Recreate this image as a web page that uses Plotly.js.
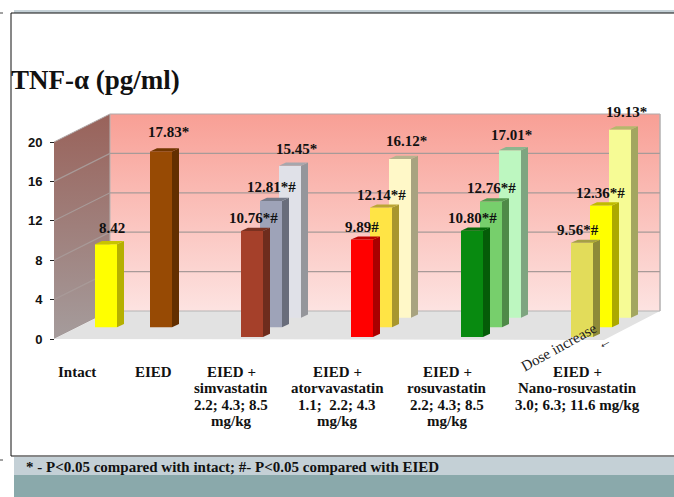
<!DOCTYPE html>
<html><head><meta charset="utf-8">
<script src="https://cdn.plot.ly/plotly-3.0.1.min.js"></script>
<style>html,body{margin:0;padding:0;background:#fff;overflow:hidden}#c{width:674px;height:497px}</style>
</head><body><div id="c"></div>
<script>
// ---- data ----
const categories = ["Intact","EIED","EIED +<br>simvastatin<br>2.2; 4.3; 8.5<br>mg/kg","EIED +<br>atorvavastatin<br>1.1;  2.2; 4.3<br>mg/kg","EIED +<br>rosuvastatin<br>2.2; 4.3; 8.5<br>mg/kg","EIED +<br>Nano-rosuvastatin<br>3.0; 6.3; 11.6 mg/kg"];
const lowDose  = [null,null,10.76,9.89,10.80,9.56];
const midDose  = [8.42,17.83,12.81,12.14,12.76,12.36];
const highDose = [null,null,15.45,16.12,17.01,19.13];
const lowLabels  = [null,null,"10.76*#","9.89#","10.80*#","9.56*#"];
const midLabels  = ["8.42","17.83*","12.81*#","12.14*#","12.76*#","12.36*#"];
const highLabels = [null,null,"15.45*","16.12*","17.01*","19.13*"];
const yTicks = [0,4,8,12,16,20];

// ---- styling ----
const lowColors  = [null,null,"#a5402a","#ff0000","#088a10","#e2dc5a"];
const midColors  = ["#ffff00","#974a04","#9ea3b8","#ffe445","#77cf6c","#ffff00"];
const highColors = [null,null,"#e0e1e8","#fff8c8","#bdf7c0","#f6fb95"];
const lowSides   = [null,null,"#6e2c1d","#aa0000","#055c08","#8e8a38"];
const midSides   = ["#b5b000","#632f00","#696d7b","#a8962e","#4f8a48","#aca800"];
const highSides  = [null,null,"#95969b","#a8a380","#7ea580","#a3a660"];
const lowTops    = [null,null,"#7a3120","#bb0000","#066a0a","#a5a045"];
const midTops    = ["#c8c400","#713600","#777b8a","#bba635","#589a50","#bfbb00"];
const highTops   = [null,null,"#a6a7ad","#b8b38e","#8cb58e","#b5b86c"];
const slots = [0,1,3,5,7,9];
const lowShift  = [[0,0],[0,0],[1,13],[0,13],[0,13],[-4,13]];
const midShift  = [[6,16],[7,20],[0,14],[0,13],[0,13],[-1,12]];
const highShift = [[0,0],[0,0],[6,17],[6,18],[1,15],[6,17]];

// ---- geometry: 55 px per slot, 9.85 px per pg/ml ----
const W=674,H=497, PX=55, PY=9.85, X0=106, Y0=339;
const xr=[-X0/PX,(W-X0)/PX], yr=[(Y0-H)/PY,Y0/PY];
const dxP=v=>v/PX, dyP=v=>v/PY;
const barW=dxP(22), sideX=dxP(7), sideY=dyP(3.2);
const wallDx=dxP(56), wallDy=dyP(28);
const leftX=dxP(54-X0), backX=leftX+wallDx, rightX=dxP(660-X0), frontRight=dxP(604-X0);
const rows=[
 {vals:highDose,cols:highColors,sides:highSides,tops:highTops,labs:highLabels,shift:highShift,off:dxP(19),base:2.15},
 {vals:midDose,cols:midColors,sides:midSides,tops:midTops,labs:midLabels,shift:midShift,off:0,base:1.2},
 {vals:lowDose,cols:lowColors,sides:lowSides,tops:lowTops,labs:lowLabels,shift:lowShift,off:-dxP(19),base:0.2}
];
const traces=[];
const poly=(xs,ys,fc,extra)=>Object.assign({type:'scatter',mode:'lines',x:xs,y:ys,fill:'toself',fillcolor:fc,line:{width:0},hoverinfo:'skip',showlegend:false},extra||{});

// walls and floor (base axes)
traces.push(poly([leftX,backX,backX,leftX,leftX],[20,20+wallDy,wallDy,0,20],'#9a645c',{
  fillgradient:{type:'vertical',colorscale:[[0,'#a59c9c'],[1,'#99625a']]}}));
traces.push(poly([backX,rightX,rightX,backX,backX],[wallDy,wallDy,20+wallDy,20+wallDy,wallDy],'#f8a096',{
  fillgradient:{type:'vertical',colorscale:[[0,'#fde3e1'],[1,'#f89f95']]}}));
traces.push(poly([leftX,backX,rightX,frontRight,leftX],[0,wallDy,wallDy,-0.1,0],'#e2e2e2'));
// wall outline
traces.push({type:'scatter',mode:'lines',x:[leftX,backX,rightX,rightX],y:[20,20+wallDy,20+wallDy,wallDy],line:{color:'#b0a8a8',width:1},hoverinfo:'skip',showlegend:false});
traces.push({type:'scatter',mode:'lines',x:[backX,backX,rightX,rightX],y:[20+wallDy,wallDy,wallDy,20+wallDy],line:{color:'#b4b4b4',width:1},hoverinfo:'skip',showlegend:false});
// grid on both walls
yTicks.slice(1,-1).forEach(v=>{
  traces.push({type:'scatter',mode:'lines',x:[leftX,backX,rightX],y:[v,v+wallDy,v+wallDy],line:{color:'#a89a98',width:1.2},hoverinfo:'skip',showlegend:false});
});

// bars (overlay axes, back row first)
const bx=[],by=[],bb=[],bc=[],faces=[],anns=[];
rows.forEach(r=>{
  r.vals.forEach((v,i)=>{
    if(v===null)return;
    const c=slots[i]+r.off, top=r.base+v;
    bx.push(c);by.push(v);bb.push(r.base);bc.push(r.cols[i]);
    const R=c+barW/2,L=c-barW/2;
    faces.push(poly([R,R+sideX,R+sideX,R,R],[r.base,r.base+sideY,top+sideY,top,r.base],r.sides[i],{xaxis:'x2',yaxis:'y2'}));
    faces.push(poly([L,L+sideX,R+sideX,R,L],[top,top+sideY,top+sideY,top,top],r.tops[i],{xaxis:'x2',yaxis:'y2'}));
    anns.push({xref:'x',yref:'y',x:c,y:top,xshift:r.shift[i][0],yshift:r.shift[i][1],text:'<b>'+r.labs[i]+'</b>',showarrow:false,xanchor:'center',yanchor:'middle',
      font:{family:'Liberation Serif',size:15,color:'#111'}});
  });
});
traces.push({type:'bar',x:bx,y:by,base:bb,width:barW,marker:{color:bc,line:{width:0}},xaxis:'x2',yaxis:'y2',hoverinfo:'skip',showlegend:false});
faces.forEach(f=>traces.push(f));

// category labels, one annotation per line for the tight leading
const catX=[77,153,231,337,447,577], catY=372, catLead=16.4;
categories.forEach((t,i)=>t.split('<br>').forEach((line,k)=>anns.push({xref:'paper',yref:'paper',x:catX[i]/W,y:1-(catY+k*catLead)/H,yanchor:'middle',xanchor:'center',
  text:'<b>'+line+'</b>',showarrow:false,font:{family:'Liberation Serif',size:15,color:'#111'}})));
// notes
anns.push({xref:'paper',yref:'paper',x:559/W,y:1-347/H,xanchor:'center',yanchor:'middle',text:'Dose increase',textangle:-29,showarrow:false,font:{family:'Liberation Serif',size:15,color:'#222'}});
anns.push({xref:'paper',yref:'paper',x:604/W,y:1-342/H,xanchor:'center',yanchor:'middle',text:'←',textangle:-29,showarrow:false,font:{family:'Liberation Serif',size:14,color:'#222'}});
anns.push({xref:'paper',yref:'paper',x:24/W,y:1-467/H,xanchor:'left',yanchor:'middle',text:'<b>* - P<0.05 compared with intact; #- P<0.05 compared with EIED</b>',showarrow:false,font:{family:'Liberation Serif',size:15,color:'#111'}});

const rect=(x0,y0,x1,y1,c)=>({type:'rect',xref:'paper',yref:'paper',x0:x0/W,x1:x1/W,y0:1-y0/H,y1:1-y1/H,fillcolor:c,line:{width:0},layer:'below'});
const ln=(x0,y0,x1,y1,c,w)=>({type:'line',xref:'paper',yref:'paper',x0:x0/W,x1:x1/W,y0:1-y0/H,y1:1-y1/H,line:{color:c,width:w||1},layer:'below'});
const shapes=[
 rect(14,10,674,13,'#c4d0d6'),
 rect(14,457,674,475,'#c4d0d6'),
 rect(14,475,674,497,'#8aa9ab'),
 ln(11,13,674,13,'#111'), ln(11,13,11,456,'#111'), ln(11,456,674,456,'#111'),
 ln(0,13,3,13,'#444'), ln(0,460,3,460,'#444')
];

const layout={
 width:W,height:H,margin:{l:0,r:0,t:0,b:0},paper_bgcolor:'#fff',plot_bgcolor:'rgba(0,0,0,0)',showlegend:false,barmode:'overlay',
 title:{text:'<b>TNF-α (pg/ml)</b>',x:11/W,xanchor:'left',xref:'paper',y:1-80/H,yanchor:'middle',yref:'container',pad:{l:0,t:0,r:0,b:0},font:{family:'Liberation Serif',size:27,color:'#111'}},
 xaxis:{range:xr,visible:false,fixedrange:true},
 yaxis:{range:yr,anchor:'free',position:54/W,tickmode:'array',tickvals:yTicks,ticktext:yTicks.map(String),ticks:'outside',ticklen:4,tickcolor:'#222',ticklabelstandoff:5,showgrid:false,zeroline:false,showline:false,
   tickfont:{family:'Liberation Sans, Arial, sans-serif',size:13,color:'#111',weight:'bold'},fixedrange:true},
 xaxis2:{range:xr,overlaying:'x',visible:false,fixedrange:true},
 yaxis2:{range:yr,overlaying:'y',visible:false,fixedrange:true},
 shapes:shapes,annotations:anns
};
Plotly.newPlot('c',traces,layout,{displayModeBar:false,staticPlot:true});
</script></body></html>
